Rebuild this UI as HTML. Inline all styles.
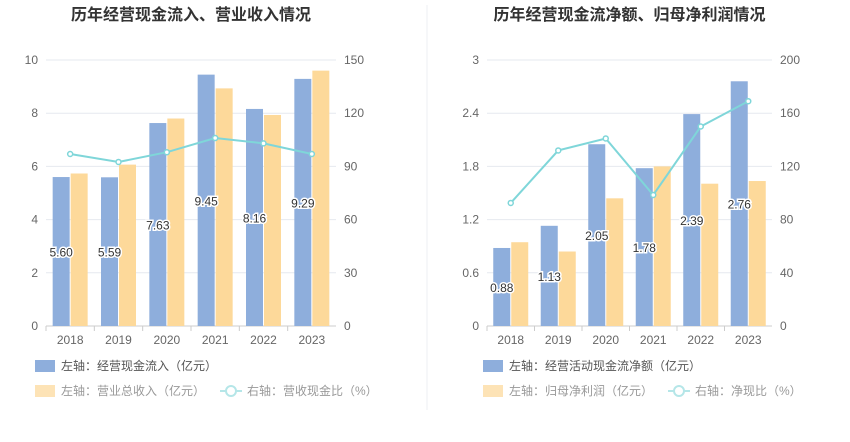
<!DOCTYPE html>
<html><head><meta charset="utf-8"><style>
body{margin:0;background:#fff;font-family:"Liberation Sans","Noto Sans CJK SC",sans-serif;}
svg text{font-family:"Liberation Sans","Noto Sans CJK SC",sans-serif;}
</style></head><body>
<svg id="c" width="850" height="437" xmlns="http://www.w3.org/2000/svg">
<line x1="427" y1="5" x2="427" y2="410" stroke="#eceff3"/>
</svg>
<script>
const years=["2018","2019","2020","2021","2022","2023"];
const leftBlue=[5.60,5.59,7.63,9.45,8.16,9.29];
const leftOrange=[86,91,117,134,119,144];
const leftLine=[97,92.5,98,106,103,97];
const leftTicksL=[0,2,4,6,8,10];
const leftTicksR=[0,30,60,90,120,150];
const rightBlue=[0.88,1.13,2.05,1.78,2.39,2.76];
const rightOrange=[63,56,96,120,107,109];
const rightLine=[92.5,132,141,98.5,150,169];
const rightTicksL=["0","0.6","1.2","1.8","2.4","3"];
const rightTicksR=[0,40,80,120,160,200];
const svg=document.getElementById('c');
const NS="http://www.w3.org/2000/svg";
function mk(tag,attrs,txt){const e=document.createElementNS(NS,tag);for(const k in attrs)e.setAttribute(k,attrs[k]);if(txt!==undefined)e.textContent=txt;svg.appendChild(e);return e;}
function chart(o){
  const y0=326,y1=60,x0=o.x0,x1=o.x1,cw=(x1-x0)/years.length;
  const yl=v=>y0-(v/o.lmax)*(y0-y1), yr=v=>y0-(v/o.rmax)*(y0-y1), xc=i=>x0+cw*(i+0.5);
  let t=mk('text',{x:(x0+x1)/2,y:20,'text-anchor':'middle','font-size':16,'font-weight':'bold',fill:'#333'},o.title);
  
  o.tl.forEach((v,i)=>{const y=y0-i*(y0-y1)/(o.tl.length-1);
    const g=mk('line',{x1:x0,x2:x1,y1:y,y2:y,stroke:'#e6e9ef'});
    const a=mk('text',{x:x0-8,y:y+4,'text-anchor':'end','font-size':12,fill:'#666'},v);
    const b=mk('text',{x:x1+8,y:y+4,'font-size':12,fill:'#666'},o.tr[i]);});
  const ax=mk('line',{x1:x0,x2:x1,y1:y0,y2:y0,stroke:'#ccc'});
  years.forEach((yy,i)=>{
    const tk=mk('line',{x1:x0+cw*i,x2:x0+cw*i,y1:y0,y2:y0+5,stroke:'#ccc'});
    const l=mk('text',{x:xc(i),y:y0+18,'text-anchor':'middle','font-size':12,fill:'#666'},yy);
    const bv=o.blue[i],by=yl(bv);
    const b=mk('rect',{x:xc(i)-17.5,y:by,width:17,height:y0-by,fill:'#8eaedc'});
    const ov=o.orange[i],oy=yr(ov);
    const r=mk('rect',{x:xc(i)+0.5,y:oy,width:17,height:y0-oy,fill:'#fdd99a'});
  });
  years.forEach((yy,i)=>{const v=o.blue[i];
    const l=mk('text',{x:xc(i)-9,y:(yl(v)+y0)/2+5,'text-anchor':'middle','font-size':12,fill:'#333',stroke:'#fff','stroke-width':3,'paint-order':'stroke'},v.toFixed(2));
    });
  const pts=o.line.map((v,i)=>xc(i)+','+yr(v)).join(' ');
  const pl=mk('polyline',{points:pts,fill:'none',stroke:'#7fd6d9','stroke-width':2});
  o.line.forEach((v,i)=>{const c=mk('circle',{cx:xc(i),cy:yr(v),r:2.5,fill:'#fff',stroke:'#7fd6d9','stroke-width':1.5});});
  const lx=o.lx;
  let s=mk('rect',{x:lx,y:360,width:20,height:12,fill:'#8eaedc'});
  let e=mk('text',{x:lx+26,y:370,'font-size':12,fill:'#555'},o.leg[0]);
  s=mk('rect',{x:lx,y:385,width:20,height:12,fill:'#fde3b6'});
  e=mk('text',{x:lx+26,y:395,'font-size':12,fill:'#999'},o.leg[1]);
  s=mk('line',{x1:o.l3,x2:o.l3+22,y1:391,y2:391,stroke:'#b5e6e8','stroke-width':2});
  s=mk('circle',{cx:o.l3+11,cy:391,r:5,fill:'#fff',stroke:'#b5e6e8','stroke-width':2});
  e=mk('text',{x:o.l3+27,y:395,'font-size':12,fill:'#999'},o.leg[2]);
}
chart({x0:46,x1:336,lmax:10,rmax:150,tl:leftTicksL,tr:leftTicksR,blue:leftBlue,orange:leftOrange,line:leftLine,title:"历年经营现金流入、营业收入情况",lx:35,l3:220,leg:["左轴：经营现金流入（亿元）","左轴：营业总收入（亿元）","右轴：营收现金比（%）"]});
chart({x0:487,x1:772,lmax:3,rmax:200,tl:rightTicksL,tr:rightTicksR,blue:rightBlue,orange:rightOrange,line:rightLine,title:"历年经营现金流净额、归母净利润情况",lx:483,l3:668,leg:["左轴：经营活动现金流净额（亿元）","左轴：归母净利润（亿元）","右轴：净现比（%）"]});
</script>
</body></html>
